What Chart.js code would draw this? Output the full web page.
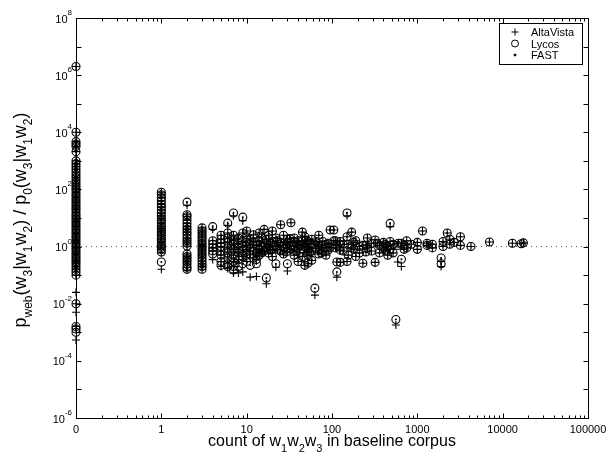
<!DOCTYPE html>
<html>
<head>
<meta charset="utf-8">
<script src="https://cdn.jsdelivr.net/npm/chart.js@4.4.1/dist/chart.umd.min.js"></script>
<style>
  html, body { margin: 0; padding: 0; background: #fff; }
</style>
</head>
<body>
<canvas id="chart" width="607" height="453"></canvas>
<script>
// counts of w1w2w3 in the baseline corpus (0 is drawn one decade left of 1)
const counts = [0, 1, 2, 3, 4, 5, 6, 7, 8, 9, 10, 11, 12, 13, 14, 15, 16, 17, 18, 19,
  20, 22, 23, 25, 27, 29, 30, 32, 33, 36, 38, 40, 42, 45, 48, 50, 52, 55, 58, 63,
  65, 70, 75, 78, 85, 90, 95, 105, 110, 114, 125, 135, 150, 155, 170, 180, 190, 210, 230, 250,
  260, 290, 320, 340, 360, 400, 420, 450, 480, 520, 560, 590, 600, 650, 700, 750, 850, 1000, 1150, 1300,
  1500, 1900, 2000, 2240, 2400, 2700, 3200, 4250, 7000, 13000, 16500, 17500];

// ratio p_web / p_0 for each count, one list per count
const lycos = [
  [2e6, 10000, 4700, 3900, 3200, 2100, 1000, 800, 630, 500, 400, 320, 260, 210, 170, 140, 115, 95, 78, 64, 52, 43, 35, 29, 24, 20, 16, 13, 11, 9, 7.5, 6.2, 5.1, 4.2, 3.5, 2.9, 2.4, 2, 1.65, 1.37, 1.13, 0.93, 0.77, 0.64, 0.53, 0.44, 0.36, 0.3, 0.25, 0.2, 0.16, 0.13, 0.1, 0.01, 0.0016, 0.0013, 0.001],
  [80, 65, 52, 40, 30, 24, 19, 15, 12, 9.5, 8, 6.5, 5.2, 4.3, 3.6, 3, 2.5, 2, 1.7, 1.4, 1.15, 0.95, 0.8, 0.65, 0.29],
  [36, 13, 11, 8.5, 6.5, 5, 4, 3.2, 2.6, 2, 1.6, 1.3, 1.05, 0.55, 0.45, 0.37, 0.3, 0.24, 0.19, 0.16],
  [4.5, 3.6, 3, 2.4, 2, 1.6, 1.3, 1.1, 0.9, 0.75, 0.6, 0.5, 0.4, 0.32, 0.25, 0.2, 0.16],
  [5, 1.6, 1.2, 0.9, 0.7, 0.55],
  [2.5, 1.8, 1.3, 1, 0.7, 0.5, 0.3, 0.22],
  [6.6, 3, 2, 1.4, 0.9, 0.6, 0.4, 0.25, 0.2],
  [15, 2.5, 1.7, 1.2, 0.8, 0.5, 0.3, 0.2, 0.15],
  [2, 1.3, 0.9, 0.6, 0.35, 0.2],
  [10.7, 3, 1.5, 1, 0.7, 0.45, 0.25],
  [3.5, 2.2, 1.4, 0.8, 0.5, 0.3],
  [1.8, 1.2, 0.9, 0.55, 0.22],
  [2.6, 1.5, 0.7, 0.4],
  [1.1, 0.6, 0.35, 0.25],
  [3, 1.6, 0.8, 0.5],
  [2, 1, 0.6],
  [4, 1.3, 0.7],
  [1.8, 0.9, 0.08],
  [2.5, 1.2, 0.6],
  [1.3, 0.75],
  [3.5, 1.5, 0.8, 0.45],
  [2, 1, 0.25],
  [1.6, 0.8],
  [5.8, 1.4, 0.7],
  [2.5, 1.1, 0.55],
  [1.2, 0.65],
  [1.8, 0.9, 0.25],
  [1.9, 1.05],
  [6.8, 1.5, 0.8],
  [2, 1, 0.5],
  [1.4, 0.7],
  [1.6, 0.9, 0.3],
  [1.1, 0.6],
  [3.2, 1.6, 0.45],
  [2.2, 1, 0.22],
  [1.7, 0.9],
  [1.5, 0.8, 0.5, 0.26],
  [1.25, 0.65],
  [1.8, 0.7, 0.33],
  [1.2, 0.035],
  [1.5, 0.85],
  [2.5, 1, 0.55],
  [1.15, 0.6],
  [1.5, 0.7],
  [1.2, 0.5],
  [1.3, 0.75],
  [3.8, 0.9],
  [3.8, 1.6],
  [1.6, 0.9],
  [1.1, 0.29, 0.13],
  [1.5, 0.75, 0.28],
  [1.2, 0.7],
  [15, 2.2, 0.3],
  [1.2, 0.5],
  [3.2, 0.9],
  [1.4, 0.8],
  [1.6, 0.45],
  [1, 0.6],
  [1.1, 0.26],
  [1.1, 0.65],
  [2, 0.9],
  [1.3, 0.7],
  [1.7, 0.28],
  [1.3],
  [1.1, 0.6],
  [1.4, 0.9],
  [1.2, 0.75],
  [1, 0.5],
  [6.5, 1.5, 0.8],
  [1.2, 0.6],
  [0.0028],
  [1.1],
  [1.3],
  [1.3, 0.36],
  [1.1, 0.8],
  [1.6, 0.9],
  [1.2],
  [1.4, 0.8],
  [3.5],
  [1.1, 1.3],
  [1.2, 0.9],
  [0.4, 0.25],
  [1.5, 1],
  [3],
  [1.8, 1.2],
  [1.4],
  [2.2, 1.1],
  [1],
  [1.45],
  [1.3],
  [1.25],
  [1.35]
];

const altaVista = [
  [2e6, 10000, 4700, 3900, 3200, 2100, 1000, 800, 630, 500, 400, 320, 260, 210, 170, 140, 115, 95, 78, 64, 52, 43, 35, 29, 24, 20, 16, 13, 11, 9, 7.5, 6.2, 5.1, 4.2, 3.5, 2.9, 2.4, 2, 1.65, 1.37, 1.13, 0.93, 0.77, 0.64, 0.53, 0.44, 0.36, 0.3, 0.25, 0.2, 0.16, 0.1, 0.025, 0.01, 0.0016, 0.005, 0.00054],
  [80, 65, 52, 40, 30, 24, 19, 15, 12, 9.5, 8, 6.5, 5.2, 4.3, 3.6, 3, 2.5, 2, 1.7, 1.4, 1.15, 0.95, 0.8, 0.6, 0.16],
  [28, 13, 11, 8.5, 6.5, 5, 4, 3.2, 2.6, 2, 1.6, 1.3, 1.05, 0.55, 0.45, 0.37, 0.3, 0.24, 0.19, 0.15],
  [4.5, 3.6, 3, 2.4, 2, 1.6, 1.3, 1.1, 0.9, 0.75, 0.6, 0.5, 0.4, 0.32, 0.25, 0.2, 0.16],
  [4, 1.6, 1.2, 0.9, 0.7, 0.35],
  [2.5, 1.8, 1.3, 1, 0.7, 0.5, 0.3, 0.2],
  [5.5, 3, 2, 1.4, 0.9, 0.6, 0.4, 0.25, 0.17],
  [12, 2.5, 1.7, 1.2, 0.8, 0.5, 0.3, 0.2, 0.12],
  [2, 1.3, 0.9, 0.6, 0.35, 0.12],
  [8, 3, 1.5, 1, 0.7, 0.45, 0.13],
  [3.5, 2.2, 1.4, 0.8, 0.5, 0.3],
  [1.8, 1.2, 0.9, 0.55, 0.085],
  [2.6, 1.5, 0.7, 0.4],
  [1.1, 0.6, 0.35, 0.09],
  [3, 1.6, 0.8, 0.5],
  [2, 1, 0.6],
  [4, 1.3, 0.7],
  [1.8, 0.9, 0.05],
  [2.5, 1.2, 0.6],
  [1.3, 0.75],
  [3.5, 1.5, 0.8, 0.45],
  [2, 1, 0.19],
  [1.6, 0.8],
  [5.8, 1.4, 0.7],
  [2.5, 1.1, 0.55],
  [1.2, 0.65],
  [1.8, 0.9, 0.14],
  [1.9, 1.05],
  [6.8, 1.5, 0.8],
  [2, 1, 0.5],
  [1.4, 0.7],
  [1.6, 0.9, 0.3],
  [1.1, 0.6],
  [3.2, 1.6, 0.45],
  [2.2, 1, 0.22],
  [1.7, 0.9],
  [1.5, 0.8, 0.5, 0.26],
  [1.25, 0.65],
  [1.8, 0.7, 0.33],
  [1.2, 0.02],
  [1.5, 0.85],
  [2.5, 1, 0.55],
  [1.15, 0.6],
  [1.5, 0.7],
  [1.2, 0.5],
  [1.3, 0.75],
  [3.8, 0.9],
  [3.8, 1.6],
  [1.6, 0.9],
  [1.1, 0.29, 0.085],
  [1.5, 0.75, 0.28],
  [1.2, 0.7],
  [12, 2.2, 0.3],
  [1.2, 0.5],
  [3.2, 0.9],
  [1.4, 0.8],
  [1.6, 0.45],
  [1, 0.6],
  [1.1, 0.26],
  [1.1, 0.65],
  [2, 0.9],
  [1.3, 0.7],
  [1.7, 0.28],
  [1.3],
  [1.1, 0.6],
  [1.4, 0.9],
  [1.2, 0.75],
  [1, 0.5],
  [5, 1.5, 0.8],
  [1.2, 0.6],
  [0.0018],
  [0.29],
  [1.3],
  [1.3, 0.2],
  [1.1, 0.8],
  [1.6, 0.9],
  [1.2],
  [1.4, 0.8],
  [3.5],
  [1.1, 1.3],
  [1.2, 0.9],
  [0.3, 0.2],
  [1.5, 1],
  [3],
  [1.8, 1.2],
  [1.4],
  [2.2, 1.1],
  [1],
  [1.45],
  [1.3],
  [1.25],
  [1.35]
];

const fast = [
  [2e6, 10000, 4700, 3900, 3200, 2100, 1000, 800, 630, 500, 400, 320, 260, 210, 170, 140, 115, 95, 78, 64, 52, 43, 35, 29, 24, 20, 16, 13, 11, 9, 7.5, 6.2, 5.1, 4.2, 3.5, 2.9, 2.4, 2, 1.65, 1.37, 1.13, 0.93, 0.77, 0.64, 0.53, 0.44, 0.36, 0.3, 0.25, 0.2, 0.16, 0.13, 0.1, 0.01, 0.0016, 0.0013, 0.001],
  [80, 65, 52, 40, 30, 24, 19, 15, 12, 9.5, 8, 6.5, 5.2, 4.3, 3.6, 3, 2.5, 2, 1.7, 1.4, 1.15, 0.95, 0.8, 0.65, 0.29],
  [36, 13, 11, 8.5, 6.5, 5, 4, 3.2, 2.6, 2, 1.6, 1.3, 1.05, 0.55, 0.45, 0.37, 0.3, 0.24, 0.19, 0.16],
  [4.5, 3.6, 3, 2.4, 2, 1.6, 1.3, 1.1, 0.9, 0.75, 0.6, 0.5, 0.4, 0.32, 0.25, 0.2, 0.16],
  [5, 1.6, 1.2, 0.9, 0.7, 0.55],
  [2.5, 1.8, 1.3, 1, 0.7, 0.5, 0.3, 0.22],
  [6.6, 3, 2, 1.4, 0.9, 0.6, 0.4, 0.25, 0.2],
  [15, 2.5, 1.7, 1.2, 0.8, 0.5, 0.3, 0.2, 0.15],
  [2, 1.3, 0.9, 0.6, 0.35, 0.2],
  [10.7, 3, 1.5, 1, 0.7, 0.45, 0.25],
  [3.5, 2.2, 1.4, 0.8, 0.5, 0.3],
  [1.8, 1.2, 0.9, 0.55, 0.22],
  [2.6, 1.5, 0.7, 0.4],
  [1.1, 0.6, 0.35, 0.25],
  [3, 1.6, 0.8, 0.5],
  [2, 1, 0.6],
  [4, 1.3, 0.7],
  [1.8, 0.9, 0.08],
  [2.5, 1.2, 0.6],
  [1.3, 0.75],
  [3.5, 1.5, 0.8, 0.45],
  [2, 1, 0.25],
  [1.6, 0.8],
  [5.8, 1.4, 0.7],
  [2.5, 1.1, 0.55],
  [1.2, 0.65],
  [1.8, 0.9, 0.25],
  [1.9, 1.05],
  [6.8, 1.5, 0.8],
  [2, 1, 0.5],
  [1.4, 0.7],
  [1.6, 0.9, 0.3],
  [1.1, 0.6],
  [3.2, 1.6, 0.45],
  [2.2, 1, 0.22],
  [1.7, 0.9],
  [1.5, 0.8, 0.5, 0.26],
  [1.25, 0.65],
  [1.8, 0.7, 0.33],
  [1.2, 0.035],
  [1.5, 0.85],
  [2.5, 1, 0.55],
  [1.15, 0.6],
  [1.5, 0.7],
  [1.2, 0.5],
  [1.3, 0.75],
  [3.8, 0.9],
  [3.8, 1.6],
  [1.6, 0.9],
  [1.1, 0.29, 0.13],
  [1.5, 0.75, 0.28],
  [1.2, 0.7],
  [15, 2.2, 0.3],
  [1.2, 0.5],
  [3.2, 0.9],
  [1.4, 0.8],
  [1.6, 0.45],
  [1, 0.6],
  [1.1, 0.26],
  [1.1, 0.65],
  [2, 0.9],
  [1.3, 0.7],
  [1.7, 0.28],
  [1.3],
  [1.1, 0.6],
  [1.4, 0.9],
  [1.2, 0.75],
  [1, 0.5],
  [6.5, 1.5, 0.8],
  [1.2, 0.6],
  [0.0028],
  [1.1],
  [1.3],
  [1.3, 0.36],
  [1.1, 0.8],
  [1.6, 0.9],
  [1.2],
  [1.4, 0.8],
  [3.5],
  [1.1, 1.3],
  [1.2, 0.9],
  [0.4, 0.25],
  [1.5, 1],
  [3],
  [1.8, 1.2],
  [1.4],
  [2.2, 1.1],
  [1],
  [1.45],
  [1.3],
  [1.25],
  [1.35]
];

// axis ticks
const xDecades = [-1, 0, 1, 2, 3, 4, 5];
const xTickLabels = ['0', '1', '10', '100', '1000', '10000', '100000'];
const yDecades = [-6, -5, -4, -3, -2, -1, 0, 1, 2, 3, 4, 5, 6, 7, 8];
const yLabelDecades = [-6, -4, -2, 0, 2, 4, 6, 8];

const ZERO_POS = 0.1;
const FONT = '"Liberation Sans", Arial, Helvetica, sans-serif';

function toPoints(series) {
  const pts = [];
  counts.forEach((c, i) => {
    series[i].forEach(v => pts.push({ x: c === 0 ? ZERO_POS : c, y: v }));
  });
  return pts;
}

// text with subscripts, centred on x
function drawRich(ctx, parts, x, y, size, subSize, subDrop) {
  let w = 0;
  parts.forEach(([t, sub]) => {
    ctx.font = (sub ? subSize : size) + 'px ' + FONT;
    w += ctx.measureText(t).width;
  });
  let cx = x - w / 2;
  ctx.textAlign = 'left';
  ctx.textBaseline = 'alphabetic';
  parts.forEach(([t, sub]) => {
    ctx.font = (sub ? subSize : size) + 'px ' + FONT;
    ctx.fillText(t, cx, sub ? y + subDrop : y);
    cx += ctx.measureText(t).width;
  });
}

const frame = {
  id: 'frame',
  afterDatasetsDraw(chart) {
    const { ctx, chartArea: a, scales: { x, y } } = chart;
    ctx.save();
    ctx.strokeStyle = '#000';
    ctx.fillStyle = '#000';
    ctx.lineWidth = 1;

    const L = Math.round(a.left) + 0.5, R = Math.round(a.right) + 0.5;
    const T = Math.round(a.top) + 0.5, B = Math.round(a.bottom) + 0.5;
    ctx.strokeRect(L, T, R - L, B - T);

    // x ticks, major and minor, top and bottom, pointing inward
    ctx.beginPath();
    xDecades.forEach(d => {
      for (let k = 1; k <= 9; k++) {
        if (d === 5 && k > 1) break;
        const px = Math.round(x.getPixelForValue(k * Math.pow(10, d))) + 0.5;
        const len = k === 1 ? 5 : 3;
        ctx.moveTo(px, B); ctx.lineTo(px, B - len);
        ctx.moveTo(px, T); ctx.lineTo(px, T + len);
      }
    });
    // y ticks at every decade
    yDecades.forEach(d => {
      const py = Math.round(y.getPixelForValue(Math.pow(10, d))) + 0.5;
      ctx.moveTo(L, py); ctx.lineTo(L + 5, py);
      ctx.moveTo(R, py); ctx.lineTo(R - 5, py);
    });
    ctx.stroke();

    // x tick labels
    ctx.font = '11px ' + FONT;
    ctx.textAlign = 'center';
    ctx.textBaseline = 'alphabetic';
    xDecades.forEach((d, i) => {
      ctx.fillText(xTickLabels[i], x.getPixelForValue(Math.pow(10, d)), 433);
    });

    // y tick labels 10^n
    yLabelDecades.forEach(d => {
      const py = y.getPixelForValue(Math.pow(10, d));
      const exp = d < 0 ? '-' + (-d) : String(d);
      ctx.font = '8px ' + FONT;
      const ew = ctx.measureText(exp).width;
      ctx.font = '11px ' + FONT;
      const bw = ctx.measureText('10').width;
      const right = 72;
      ctx.textAlign = 'left';
      ctx.fillText('10', right - ew - bw, py + 4.5);
      ctx.font = '8px ' + FONT;
      ctx.fillText(exp, right - ew, py - 3);
    });

    // axis titles
    drawRich(ctx, [['count of w', 0], ['1', 1], ['w', 0], ['2', 1], ['w', 0], ['3', 1], [' in baseline corpus', 0]],
      (a.left + a.right) / 2, 446, 16, 11, 6);

    ctx.save();
    ctx.translate(26, 220);
    ctx.rotate(-Math.PI / 2);
    drawRich(ctx, [['p', 0], ['web', 1], ['(w', 0], ['3', 1], ['|w', 0], ['1', 1], ['w', 0], ['2', 1],
      [') / p', 0], ['0', 1], ['(w', 0], ['3', 1], ['|w', 0], ['1', 1], ['w', 0], ['2', 1], [')', 0]],
      0, 0, 18, 12, 6);
    ctx.restore();

    // legend box
    ctx.fillStyle = '#fff';
    ctx.fillRect(499.5, 23.5, 83, 41);
    ctx.strokeRect(499.5, 23.5, 83, 41);
    const rows = [36, 47.5, 59];
    chart.data.datasets.slice(0, 3).forEach((ds, i) => {
      const cy = rows[i] - 4;
      ctx.fillStyle = ds.backgroundColor;
      ctx.strokeStyle = '#000';
      Chart.helpers.drawPoint(ctx, {
        pointStyle: ds.pointStyle,
        radius: i === 2 ? 1 : 3.5,
        borderWidth: 1,
        rotation: 0
      }, 515, cy);
      ctx.fillStyle = '#000';
      ctx.font = '11px ' + FONT;
      ctx.textAlign = 'left';
      ctx.fillText(ds.label, 531, rows[i]);
    });
    ctx.restore();
  }
};

new Chart(document.getElementById('chart'), {
  type: 'scatter',
  data: {
    datasets: [
      {
        label: 'AltaVista',
        data: toPoints(altaVista),
        pointStyle: 'cross',
        pointRadius: 4,
        borderColor: '#000',
        backgroundColor: '#000',
        borderWidth: 1.1,
        clip: false
      },
      {
        label: 'Lycos',
        data: toPoints(lycos),
        pointStyle: 'circle',
        pointRadius: 4,
        borderColor: '#000',
        backgroundColor: 'rgba(0,0,0,0)',
        borderWidth: 1.1,
        clip: false
      },
      {
        label: 'FAST',
        data: toPoints(fast),
        pointStyle: 'circle',
        pointRadius: 1,
        borderColor: '#000',
        backgroundColor: '#000',
        borderWidth: 0,
        clip: false
      },
      {
        type: 'line',
        label: 'ratio 1',
        data: [{ x: ZERO_POS, y: 1 }, { x: 1e5, y: 1 }],
        borderColor: '#555',
        borderDash: [1, 4],
        borderWidth: 1,
        pointRadius: 0
      }
    ]
  },
  options: {
    responsive: false,
    animation: false,
    events: [],
    layout: { padding: { left: 76, right: 19, top: 18, bottom: 35 } },
    plugins: { legend: { display: false }, tooltip: { enabled: false } },
    scales: {
      x: { type: 'logarithmic', min: 0.1, max: 1e5, display: false },
      y: { type: 'logarithmic', min: 1e-6, max: 1e8, display: false }
    }
  },
  plugins: [frame]
});
</script>
</body>
</html>
